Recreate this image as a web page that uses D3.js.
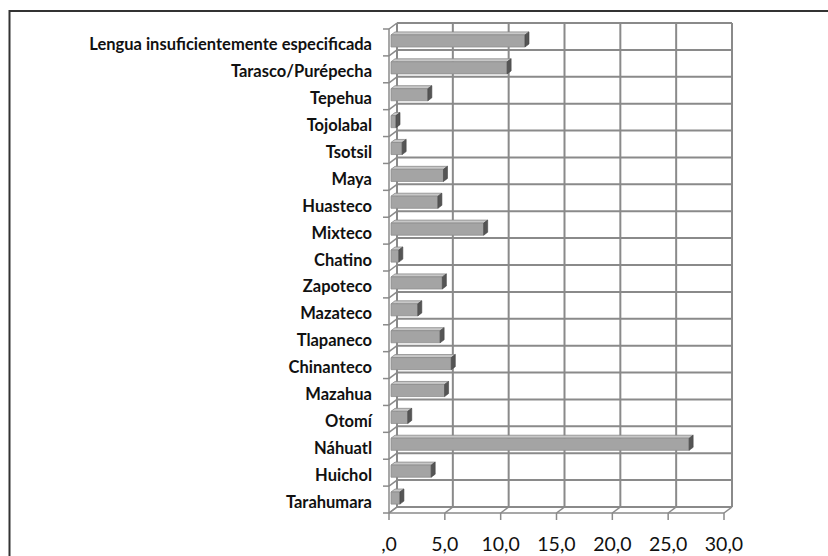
<!DOCTYPE html>
<html>
<head>
<meta charset="utf-8">
<script src="https://cdn.jsdelivr.net/npm/d3@7"></script>
<style>
  html, body { margin: 0; padding: 0; background: #fff; }
  svg { display: block; }
</style>
</head>
<body>
<svg id="chart" width="828" height="556"></svg>
<script>
// Lenguas indígenas (porcentaje)
const categories = [
  "Lengua insuficientemente especificada", "Tarasco/Purépecha", "Tepehua", "Tojolabal",
  "Tsotsil", "Maya", "Huasteco", "Mixteco", "Chatino", "Zapoteco", "Mazateco",
  "Tlapaneco", "Chinanteco", "Mazahua", "Otomí", "Náhuatl", "Huichol", "Tarahumara"
];
const values = [
  12.0, 10.4, 3.3, 0.45, 1.0, 4.7, 4.2, 8.3, 0.7, 4.6, 2.4,
  4.4, 5.4, 4.8, 1.5, 26.7, 3.6, 0.8
];
const tickValues = [0, 5, 10, 15, 20, 25, 30];
const tickLabels = [",0", "5,0", "10,0", "15,0", "20,0", "25,0", "30,0"];

const svg = d3.select("#chart");

// outer frame
svg.append("rect")
  .attr("x", 9.5).attr("y", 11).attr("width", 830).attr("height", 560)
  .attr("fill", "none").attr("stroke", "#333").attr("stroke-width", 2);

// 3D box geometry: front plane origin and depth offset toward the back wall
const front = { x: 389, y: 6 };    // front plane is shifted down by depth dy
const depth = { dx: 8, dy: -6 };
const wallTop = 23, wallBottom = 507;

const x = d3.scaleLinear().domain([0, 30]).range([0, 335]);
const y = d3.scaleBand().domain(categories).range([wallTop, wallBottom])
  .paddingInner(0.55).paddingOuter(0.275);
const yStep = d3.scaleBand().domain(categories).range([wallTop, wallBottom]);

// project (value, back-wall y, depth 0=front..1=back) to screen
function P(v, yy, d) {
  return [front.x + x(v) + depth.dx * d, yy + front.y + depth.dy * d];
}

const gridColor = "#8a8a8a";
const g = svg.append("g");

// back wall vertical gridlines
tickValues.forEach(t => {
  const a = P(t, wallTop, 1), b = P(t, wallBottom, 1);
  g.append("line").attr("x1", a[0]).attr("y1", a[1]).attr("x2", b[0]).attr("y2", b[1])
    .attr("stroke", gridColor).attr("stroke-width", 2);
});
// back wall horizontal gridlines (category boundaries)
const bounds = categories.map(c => yStep(c)).concat([wallBottom]);
bounds.forEach(yy => {
  const a = P(0, yy, 1), b = P(30, yy, 1);
  g.append("line").attr("x1", a[0]).attr("y1", a[1]).attr("x2", b[0]).attr("y2", b[1])
    .attr("stroke", gridColor).attr("stroke-width", 2);
});

// left side wall: front edge, diagonals and ticks
{
  const a = P(0, wallTop, 0), b = P(0, wallBottom, 0);
  g.append("line").attr("x1", a[0]).attr("y1", a[1]).attr("x2", b[0]).attr("y2", b[1])
    .attr("stroke", gridColor).attr("stroke-width", 1.5);
}
bounds.forEach(yy => {
  const a = P(0, yy, 0), b = P(0, yy, 1);
  g.append("line").attr("x1", a[0]).attr("y1", a[1]).attr("x2", b[0]).attr("y2", b[1])
    .attr("stroke", gridColor).attr("stroke-width", 1.5);
  g.append("line").attr("x1", a[0] - 6).attr("y1", a[1]).attr("x2", a[0]).attr("y2", a[1])
    .attr("stroke", gridColor).attr("stroke-width", 1.5);
});

// floor: front edge, diagonals and value ticks
{
  const a = P(0, wallBottom, 0), b = P(30, wallBottom, 0);
  g.append("line").attr("x1", a[0]).attr("y1", a[1]).attr("x2", b[0]).attr("y2", b[1])
    .attr("stroke", gridColor).attr("stroke-width", 1.5);
}
tickValues.forEach(t => {
  const a = P(t, wallBottom, 0), b = P(t, wallBottom, 1);
  g.append("line").attr("x1", a[0]).attr("y1", a[1]).attr("x2", b[0]).attr("y2", b[1])
    .attr("stroke", gridColor).attr("stroke-width", 1.5);
  g.append("line").attr("x1", a[0]).attr("y1", a[1]).attr("x2", a[0]).attr("y2", a[1] + 7)
    .attr("stroke", gridColor).attr("stroke-width", 1.5);
});

// bars (3D boxes between depth 0.25 and 0.75)
const d0 = 0.25, d1 = 0.75;
const bars = g.selectAll("g.bar").data(categories.map((c, i) => ({ c, v: values[i] })))
  .join("g").attr("class", "bar");

bars.append("polygon") // top face
  .attr("points", d => {
    const t = y(d.c);
    return [P(0, t, d0), P(d.v, t, d0), P(d.v, t, d1), P(0, t, d1)].map(p => p.join(",")).join(" ");
  })
  .attr("fill", "#c8c8c8").attr("stroke", "#8a8a8a").attr("stroke-width", 0.8);

bars.append("polygon") // front face
  .attr("points", d => {
    const t = y(d.c), b = t + y.bandwidth();
    return [P(0, t, d0), P(d.v, t, d0), P(d.v, b, d0), P(0, b, d0)].map(p => p.join(",")).join(" ");
  })
  .attr("fill", "#a4a4a4").attr("stroke", "#8e8e8e").attr("stroke-width", 0.8);

bars.append("polygon") // end face
  .attr("points", d => {
    const t = y(d.c), b = t + y.bandwidth();
    return [P(d.v, t, d0), P(d.v, t, d1), P(d.v, b, d1), P(d.v, b, d0)].map(p => p.join(",")).join(" ");
  })
  .attr("fill", "#555").attr("stroke", "#444").attr("stroke-width", 0.6);

// category labels
g.selectAll("text.cat").data(categories).join("text")
  .attr("class", "cat")
  .attr("x", 372)
  .attr("y", c => yStep(c) + yStep.bandwidth() / 2 + front.y + 2)
  .attr("text-anchor", "end")
  .attr("dominant-baseline", "central")
  .attr("font-family", "Lato, 'Open Sans', sans-serif")
  .attr("font-weight", "bold")
  .attr("font-size", 16.5)
  .attr("fill", "#111")
  .text(c => c);

// value tick labels
g.selectAll("text.tick").data(tickValues).join("text")
  .attr("class", "tick")
  .attr("x", t => P(t, wallBottom, 0)[0])
  .attr("y", 543)
  .attr("text-anchor", "middle")
  .attr("dominant-baseline", "central")
  .attr("font-family", "Lato, 'Open Sans', sans-serif")
  .attr("font-size", 19.5)
  .attr("fill", "#111")
  .text((t, i) => tickLabels[i]);
</script>
</body>
</html>
